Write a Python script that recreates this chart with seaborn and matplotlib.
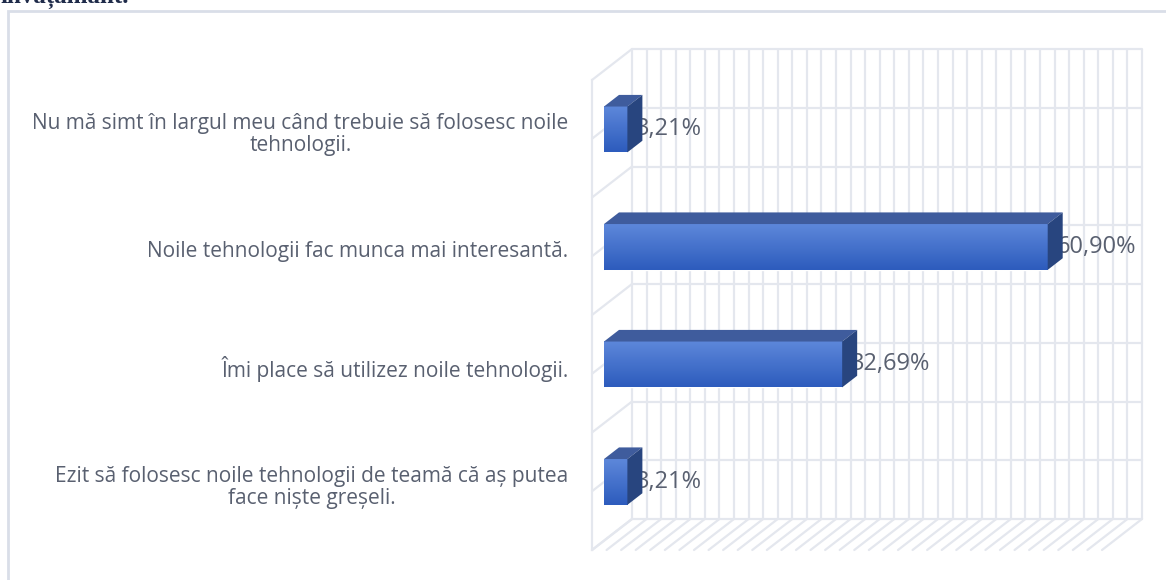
import numpy as np
import pandas as pd
import matplotlib
matplotlib.use('Agg')
import matplotlib.pyplot as plt
import seaborn as sns
from matplotlib.patches import Polygon, Rectangle
from matplotlib.colors import LinearSegmentedColormap

# data
categories = [
    'Nu mă simt în largul meu când trebuie să folosesc noile\ntehnologii.',
    'Noile tehnologii fac munca mai interesantă.',
    'Îmi place să utilizez noile tehnologii.',
    'Ezit să folosesc noile tehnologii de teamă că aș putea\nface niște greșeli.',
]
values = [3.21, 60.90, 32.69, 3.21]
value_labels = ['3,21%', '60,90%', '32,69%', '3,21%']
x_max = 70
x_step = 2

df = pd.DataFrame({'cat': categories, 'val': values})

sns.set_style('white')
plt.rcParams['font.family'] = ['Open Sans', 'DejaVu Sans']

W, H = 1166, 580
fig = plt.figure(figsize=(W / 100, H / 100), dpi=100)
# front plane of the 3d box, in pixels
left_px, right_px, top_px, bot_px = 592, 1102, 80, 550
ax = fig.add_axes([left_px / W, (H - bot_px) / H,
                   (right_px - left_px) / W, (bot_px - top_px) / H])

grid_c = '#E4E7EE'
text_c = '#596070'
n = len(categories)

# depth vector (pixels -> data units)
px_x = (right_px - left_px) / x_max
px_y = (bot_px - top_px) / n
DX = 40 / px_x
DY = -31 / px_y
d_front, d_back = 0.3, 0.675

sns.barplot(data=df, x='val', y='cat', orient='h', width=0.39,
            color='#3a68c8', ax=ax, zorder=3)

ax.set_xlim(0, x_max)
ax.set_ylim(n - 0.5, -0.5)

# back wall + left wall + floor lines
ys = np.arange(-0.5, n - 0.5 + 0.01, 0.5)
xs = np.arange(0, x_max + 0.01, x_step)
for x in xs:
    ax.plot([x + DX, x + DX], [-0.5 + DY, n - 0.5 + DY], color=grid_c,
            lw=1.6, zorder=1, clip_on=False, solid_capstyle='butt')
    ax.plot([x, x + DX], [n - 0.5, n - 0.5 + DY], color=grid_c,
            lw=1.6, zorder=1, clip_on=False)
for y in ys:
    ax.plot([DX, x_max + DX], [y + DY, y + DY], color=grid_c,
            lw=1.6, zorder=1, clip_on=False)
    ax.plot([0, DX], [y, y + DY], color=grid_c, lw=1.6, zorder=1,
            clip_on=False)

grad = LinearSegmentedColormap.from_list('g', ['#5d87da', '#2d5cbd'])
for p, v, lab in zip(ax.patches, values, value_labels):
    p.set_x(p.get_x() + d_front * DX)
    p.set_y(p.get_y() + d_front * DY)
    x0, y0 = p.get_x(), p.get_y()
    w, h = p.get_width(), p.get_height()
    x1, yb = x0 + w, y0 + h
    ax.imshow(np.linspace(0, 1, 50).reshape(-1, 1), cmap=grad,
              extent=[x0, x1, yb, y0], aspect='auto', zorder=3.1,
              interpolation='bilinear')
    bdx = (d_back - d_front) * DX
    bdy = (d_back - d_front) * DY
    ax.add_patch(Polygon([(x0, y0), (x1, y0), (x1 + bdx, y0 + bdy),
                          (x0 + bdx, y0 + bdy)], closed=True,
                         facecolor='#3f5c9d', edgecolor='none', zorder=4))
    ax.add_patch(Polygon([(x1, y0), (x1, yb), (x1 + bdx, yb + bdy),
                          (x1 + bdx, y0 + bdy)], closed=True,
                         facecolor='#28457f', edgecolor='none', zorder=4))
    ax.text(x1 + 1.2, y0 + h / 2, lab, ha='left', va='center',
            fontsize=17, color=text_c, zorder=3.5)

ax.set_xlim(0, x_max)
ax.set_ylim(n - 0.5, -0.5)
ax.set_xlabel('')
ax.set_ylabel('')
ax.set_xticks([])
ax.set_yticks(np.arange(n) + d_front * DY + 0.02)
ax.set_yticklabels(categories, fontsize=15, color=text_c,
                   multialignment='center', linespacing=1.05)
ax.set_yticks(ys[:-1], minor=True)
ax.tick_params(axis='y', which='major', length=0, pad=17)
ax.tick_params(axis='y', which='minor', length=5, color=grid_c, width=1.6)
for s in ['top', 'right', 'bottom']:
    ax.spines[s].set_visible(False)
ax.spines['left'].set_color(grid_c)
ax.spines['left'].set_linewidth(1.6)
ax.patch.set_alpha(0)

# chart frame and clipped heading above it
fig.patches.append(Rectangle((8 / W, -0.1), 1.2, (H - 11) / H + 0.1,
                             transform=fig.transFigure, fill=False,
                             edgecolor='#D9DEE8', lw=2))
fig.text(0.0, 1 - 3 / H, 'învățământ.', ha='left', va='baseline',
         fontsize=18, family='Liberation Serif', weight='bold',
         color='#1f2b4a')

fig.savefig('out.png', dpi=100)
